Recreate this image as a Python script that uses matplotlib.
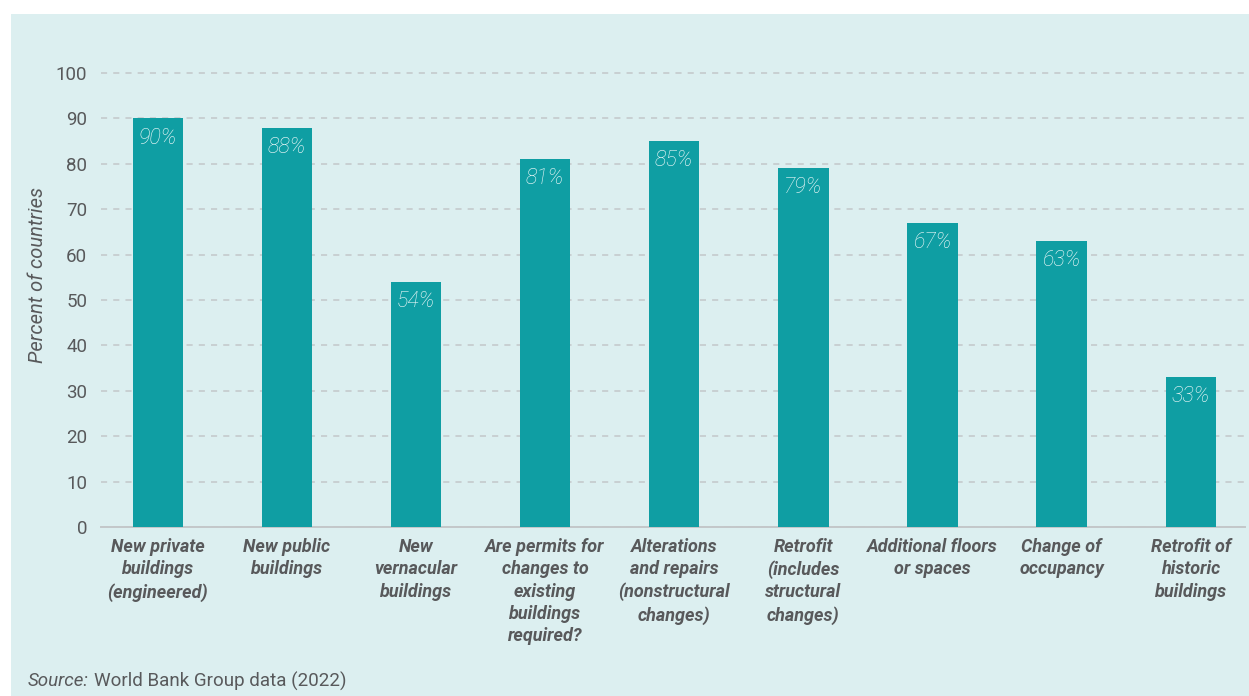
import matplotlib.pyplot as plt
from matplotlib.patches import Rectangle

# Доля стран, где требуется разрешение на строительство, по типам работ
categories = [
    "New private\nbuildings\n(engineered)",
    "New public\nbuildings",
    "New\nvernacular\nbuildings",
    "Are permits for\nchanges to\nexisting\nbuildings\nrequired?",
    "Alterations\nand repairs\n(nonstructural\nchanges)",
    "Retrofit\n(includes\nstructural\nchanges)",
    "Additional floors\nor spaces",
    "Change of\noccupancy",
    "Retrofit of\nhistoric\nbuildings",
]
percent = [90, 88, 54, 81, 85, 79, 67, 63, 33]
yticks = [0, 10, 20, 30, 40, 50, 60, 70, 80, 90, 100]

bg = "#dcEff0"
bar_color = "#0f9ea3"
text_gray = "#58595b"
grid_gray = "#c3c7c9"

plt.rcParams['font.family'] = ['Roboto', 'DejaVu Sans']

W, H = 1249, 696
fig = plt.figure(figsize=(W / 100, H / 100), dpi=100, facecolor="white")
fig.patches.append(Rectangle((11 / W, 0), 1 - 11 / W, 1 - 14 / H,
                             transform=fig.transFigure, facecolor=bg,
                             edgecolor="none", zorder=-10))

ax = fig.add_axes([101 / W, 1 - 527 / H, (1245 - 101) / W, (527 - 68.5) / H])
ax.set_facecolor("none")

x = list(range(len(categories)))
ax.bar(x, percent, width=0.39, color=bar_color, zorder=3)

for xi, v in zip(x, percent):
    ax.text(xi, v - 2.0, f"{v}%", ha="center", va="top", fontsize=15.5,
            style="italic", fontweight="light", color="#f2fafa", zorder=4)

ax.set_xlim(-0.44, 8.42)
ax.set_ylim(0, 101)
ax.set_yticks(yticks)
ax.set_yticklabels([str(t) for t in yticks], fontsize=13.5, color=text_gray)
ax.tick_params(axis="y", length=0, pad=10)
ax.set_xticks(x)
ax.set_xticklabels(categories, fontsize=13, fontweight="bold", style="italic",
                   color=text_gray, linespacing=1.3)
ax.tick_params(axis="x", length=0, pad=8)

ax.yaxis.grid(True, linestyle=(0, (4, 4)), color=grid_gray, linewidth=1.1, zorder=1)
for s in ["top", "right", "left"]:
    ax.spines[s].set_visible(False)
ax.spines["bottom"].set_color(grid_gray)
ax.spines["bottom"].set_linewidth(1.4)
ax.spines["bottom"].set_zorder(2)

ax.set_ylabel("Percent of countries", fontsize=14.5, style="italic",
              color=text_gray)
ax.yaxis.set_label_coords(-0.047, 0.55)

# подпись источника: курсивное "Source:" и обычный текст после него
src = fig.text(28 / W, 1 - 681 / H, "Source:", fontsize=13.5, style="italic",
               color=text_gray, va="center")
renderer = fig.canvas.get_renderer()
bb = src.get_window_extent(renderer)
fig.text(bb.x1 / W + 5 / W, 1 - 681 / H, "World Bank Group data (2022)",
         fontsize=13.5, color=text_gray, va="center")

fig.savefig("out.png", dpi=100, facecolor="white")
